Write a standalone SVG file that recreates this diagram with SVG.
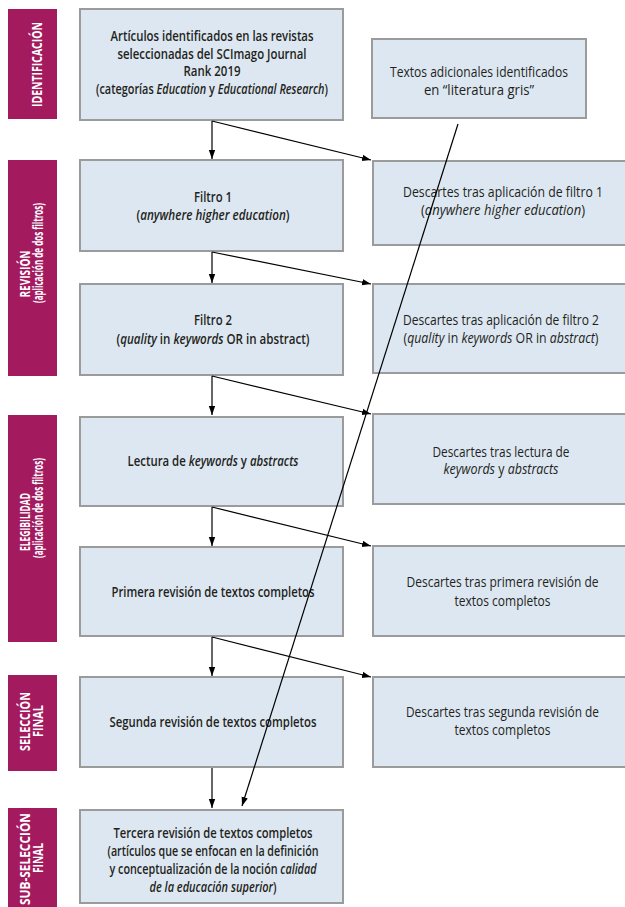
<svg xmlns="http://www.w3.org/2000/svg" width="625" height="907" viewBox="0 0 625 907">
<style>
.box{fill:#dde7f2;stroke:#9b9b9b;stroke-width:2}
.side{fill:#a31a5f}
.lt{font-family:"Open Sans","Liberation Sans",sans-serif;font-size:15px;font-weight:600;fill:#231f20;text-anchor:middle}
.rt{font-family:"Open Sans","Liberation Sans",sans-serif;font-size:15px;font-weight:400;fill:#231f20;text-anchor:middle}
.st{font-family:"Open Sans","Liberation Sans",sans-serif;font-size:14.5px;font-weight:700;fill:#ffffff;text-anchor:middle}
.i{font-style:italic}
.c{fill:none;stroke:#000;stroke-width:1.2}
</style>
<defs>
<marker id="ah" markerWidth="10" markerHeight="8" refX="9" refY="4" orient="auto" markerUnits="userSpaceOnUse">
<path d="M0,0.8 L9,4 L0,7.2 Z" fill="#000"/>
</marker>
</defs>
<rect width="625" height="907" fill="#ffffff"/>

<g id="stage-identificacion">
<rect class="side" x="8" y="9" width="49" height="110"/>
<text class="st" transform="translate(42,64.5) rotate(-90)" textLength="85" lengthAdjust="spacingAndGlyphs">IDENTIFICACIÓN</text>
</g>
<g id="stage-revision">
<rect class="side" x="8" y="160" width="49" height="216"/>
<text class="st" transform="translate(30,274) rotate(-90)" textLength="47" lengthAdjust="spacingAndGlyphs">REVISIÓN</text>
<text class="st" transform="translate(42.5,253) rotate(-90)" textLength="100" lengthAdjust="spacingAndGlyphs">(aplicación de dos filtros)</text>
</g>
<g id="stage-elegibilidad">
<rect class="side" x="8" y="415" width="49" height="227"/>
<text class="st" transform="translate(30,522) rotate(-90)" textLength="58" lengthAdjust="spacingAndGlyphs">ELEGIBILIDAD</text>
<text class="st" transform="translate(42.5,508) rotate(-90)" textLength="100" lengthAdjust="spacingAndGlyphs">(aplicación de dos filtros)</text>
</g>
<g id="stage-seleccion">
<rect class="side" x="8" y="675" width="49" height="96"/>
<text class="st" transform="translate(30,721.5) rotate(-90)" textLength="59" lengthAdjust="spacingAndGlyphs">SELECCIÓN</text>
<text class="st" transform="translate(42.5,721) rotate(-90)" textLength="32" lengthAdjust="spacingAndGlyphs">FINAL</text>
</g>
<g id="stage-subseleccion">
<rect class="side" x="8" y="808" width="49" height="105"/>
<text class="st" transform="translate(30,859) rotate(-90)" textLength="92" lengthAdjust="spacingAndGlyphs">SUB-SELECCIÓN</text>
<text class="st" transform="translate(42.5,858) rotate(-90)" textLength="30" lengthAdjust="spacingAndGlyphs">FINAL</text>
</g>

<g id="n-articulos">
<rect class="box" x="80" y="9" width="263" height="111"/>
<text class="lt" x="212" y="41" textLength="203" lengthAdjust="spacingAndGlyphs">Artículos identificados en las revistas</text>
<text class="lt" x="212" y="58.5" textLength="189" lengthAdjust="spacingAndGlyphs">seleccionadas del SCImago Journal</text>
<text class="lt" x="212" y="76" textLength="57" lengthAdjust="spacingAndGlyphs">Rank 2019</text>
<text class="lt" x="212" y="94" textLength="232" lengthAdjust="spacingAndGlyphs">(categorías <tspan class="i">Education</tspan> y <tspan class="i">Educational Research</tspan>)</text>
</g>
<g id="n-filtro1">
<rect class="box" x="80" y="160" width="263" height="91"/>
<text class="lt" x="213" y="201.7" textLength="38" lengthAdjust="spacingAndGlyphs">Filtro 1</text>
<text class="lt" x="213" y="219.5" textLength="153" lengthAdjust="spacingAndGlyphs">(<tspan class="i">anywhere higher education</tspan>)</text>
</g>
<g id="n-filtro2">
<rect class="box" x="80" y="284" width="263" height="91"/>
<text class="lt" x="213" y="325" textLength="38" lengthAdjust="spacingAndGlyphs">Filtro 2</text>
<text class="lt" x="213" y="344" textLength="193" lengthAdjust="spacingAndGlyphs">(<tspan class="i">quality</tspan> in <tspan class="i">keywords</tspan> OR in abstract)</text>
</g>
<g id="n-lectura">
<rect class="box" x="80" y="417" width="263" height="89"/>
<text class="lt" x="213" y="466" textLength="171" lengthAdjust="spacingAndGlyphs">Lectura de <tspan class="i">keywords</tspan> y <tspan class="i">abstracts</tspan></text>
</g>
<g id="n-primera">
<rect class="box" x="80" y="547" width="263" height="89"/>
<text class="lt" x="213" y="596.7" textLength="203" lengthAdjust="spacingAndGlyphs">Primera revisión de textos completos</text>
</g>
<g id="n-segunda">
<rect class="box" x="80" y="677" width="263" height="90"/>
<text class="lt" x="213" y="727.3" textLength="207" lengthAdjust="spacingAndGlyphs">Segunda revisión de textos completos</text>
</g>
<g id="n-tercera">
<rect class="box" x="80" y="810" width="263" height="93"/>
<text class="lt" x="213" y="838.3" textLength="199" lengthAdjust="spacingAndGlyphs">Tercera revisión de textos completos</text>
<text class="lt" x="213" y="856" textLength="211" lengthAdjust="spacingAndGlyphs">(artículos que se enfocan en la definición</text>
<text class="lt" x="213" y="873.5" textLength="207" lengthAdjust="spacingAndGlyphs">y conceptualización de la noción <tspan class="i">calidad</tspan></text>
<text class="lt" x="213" y="891.5" textLength="127" lengthAdjust="spacingAndGlyphs"><tspan class="i">de la educación superior</tspan>)</text>
</g>

<g id="n-textos-adicionales">
<rect class="box" x="372" y="39" width="214" height="79"/>
<text class="rt" x="479" y="77" textLength="178" lengthAdjust="spacingAndGlyphs">Textos adicionales identificados</text>
<text class="rt" x="479" y="95" textLength="110" lengthAdjust="spacingAndGlyphs">en “literatura gris”</text>
</g>
<g id="n-descartes1">
<rect class="box" x="373" y="161" width="263" height="84"/>
<text class="rt" x="503" y="197" textLength="200" lengthAdjust="spacingAndGlyphs">Descartes tras aplicación de filtro 1</text>
<text class="rt" x="503" y="215" textLength="164" lengthAdjust="spacingAndGlyphs">(<tspan class="i">anywhere higher education</tspan>)</text>
</g>
<g id="n-descartes2">
<rect class="box" x="373" y="284" width="263" height="89"/>
<text class="rt" x="501" y="325" textLength="196" lengthAdjust="spacingAndGlyphs">Descartes tras aplicación de filtro 2</text>
<text class="rt" x="501" y="343.3" textLength="195" lengthAdjust="spacingAndGlyphs">(<tspan class="i">quality</tspan> in <tspan class="i">keywords</tspan> OR in <tspan class="i">abstract</tspan>)</text>
</g>
<g id="n-descartes3">
<rect class="box" x="373" y="414" width="263" height="90"/>
<text class="rt" x="501" y="457" textLength="137" lengthAdjust="spacingAndGlyphs">Descartes tras lectura de</text>
<text class="rt" x="501" y="473.5" textLength="115" lengthAdjust="spacingAndGlyphs"><tspan class="i">keywords</tspan> y <tspan class="i">abstracts</tspan></text>
</g>
<g id="n-descartes4">
<rect class="box" x="373" y="546" width="263" height="90"/>
<text class="rt" x="502.5" y="587.3" textLength="192" lengthAdjust="spacingAndGlyphs">Descartes tras primera revisión de</text>
<text class="rt" x="502.5" y="605.7" textLength="96" lengthAdjust="spacingAndGlyphs">textos completos</text>
</g>
<g id="n-descartes5">
<rect class="box" x="373" y="677" width="263" height="90"/>
<text class="rt" x="502.5" y="716.7" textLength="193" lengthAdjust="spacingAndGlyphs">Descartes tras segunda revisión de</text>
<text class="rt" x="502.5" y="735" textLength="96" lengthAdjust="spacingAndGlyphs">textos completos</text>
</g>

<g id="connectors">
<line class="c" x1="212" y1="121" x2="212" y2="159" marker-end="url(#ah)"/>
<line class="c" x1="212" y1="121" x2="371" y2="160" marker-end="url(#ah)"/>
<line class="c" x1="212" y1="252" x2="212" y2="283" marker-end="url(#ah)"/>
<line class="c" x1="212" y1="252" x2="371" y2="284" marker-end="url(#ah)"/>
<line class="c" x1="212" y1="376" x2="212" y2="415" marker-end="url(#ah)"/>
<line class="c" x1="212" y1="376" x2="371" y2="414" marker-end="url(#ah)"/>
<line class="c" x1="212" y1="507" x2="212" y2="546" marker-end="url(#ah)"/>
<line class="c" x1="212" y1="507" x2="371" y2="546" marker-end="url(#ah)"/>
<line class="c" x1="212" y1="637" x2="212" y2="676" marker-end="url(#ah)"/>
<line class="c" x1="212" y1="637" x2="371" y2="677" marker-end="url(#ah)"/>
<line class="c" x1="212" y1="768" x2="212" y2="808" marker-end="url(#ah)"/>
<line class="c" x1="458" y1="124" x2="242" y2="806" marker-end="url(#ah)"/>
</g>
</svg>
